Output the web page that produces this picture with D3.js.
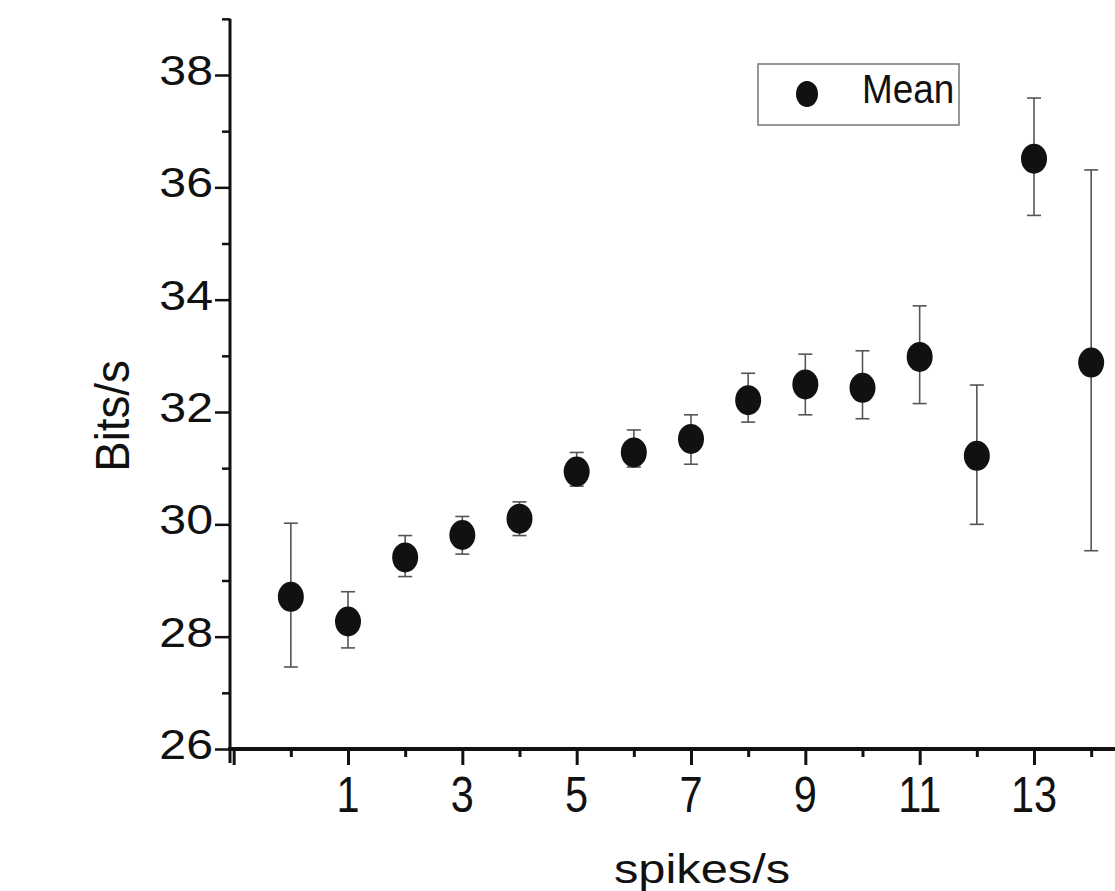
<!DOCTYPE html>
<html>
<head>
<meta charset="utf-8">
<script src="https://cdn.jsdelivr.net/npm/d3@7"></script>
<style>
  body { margin: 0; background: #fff; }
  svg text { font-family: 'Liberation Sans', Arial, sans-serif; fill: #111; }
</style>
</head>
<body>
<div id="chart"></div>
<script>
// data
const rates = [0, 1, 2, 3, 4, 5, 6, 7, 8, 9, 10, 11, 12, 13, 14]
const means = [28.71, 28.27, 29.41, 29.81, 30.10, 30.94, 31.28, 31.52, 32.21, 32.49, 32.43, 32.98, 31.22, 36.51, 32.88]
const upper = [30.02, 28.80, 29.80, 30.14, 30.40, 31.28, 31.68, 31.95, 32.69, 33.03, 33.09, 33.89, 32.48, 37.59, 36.31]
const lower = [27.46, 27.80, 29.07, 29.47, 29.80, 30.68, 31.02, 31.07, 31.82, 31.95, 31.88, 32.15, 30.00, 35.50, 29.53]
const xTickLabels = [1, 3, 5, 7, 9, 11, 13]
const yTickLabels = [26, 28, 30, 32, 34, 36, 38]
const legendLabel = 'Mean'

const width = 1115
const height = 891

const svg = d3.select('#chart')
  .append('svg')
  .attr('width', width)
  .attr('height', height)

const x = d3.scaleLinear().domain([1, 13]).range([348, 1034])
const y = d3.scaleLinear().domain([26, 38]).range([749, 75])

const x0 = x.invert(230)
const x1 = x.invert(width)
const ink = '#111'

// x axis: every integer ticked, odd ones long
const xTicks = d3.range(-1, 15)
const xAxis = d3.axisBottom(x)
  .tickValues(xTicks)
  .tickSize(0)
  .tickFormat('')
const gx = svg.append('g').attr('transform', `translate(0,${y(26)})`).call(xAxis)
gx.select('.domain').remove()
gx.append('line')
  .attr('x1', x(x0) - 2).attr('x2', x(x1))
  .attr('stroke', ink).attr('stroke-width', 4)
gx.selectAll('.tick line')
  .attr('stroke', ink).attr('stroke-width', 3)
  .attr('y2', d => (Math.abs(d) % 2 === 1) ? 16 : 8)
gx.selectAll('.xlab')
  .data(xTickLabels)
  .enter().append('text')
    .attr('class', 'xlab')
    .attr('transform', d => `translate(${x(d)},63) scale(0.83,1)`)
    .attr('text-anchor', 'middle')
    .attr('font-size', 50)
    .text(d => d)

// y axis
const yTicks = d3.range(26, 40)
const yAxis = d3.axisLeft(y)
  .tickValues(yTicks)
  .tickSize(0)
  .tickFormat('')
const gy = svg.append('g').attr('transform', `translate(${x(x0)},0)`).call(yAxis)
gy.select('.domain').remove()
gy.append('line')
  .attr('y1', y(39)).attr('y2', y(26) + 14)
  .attr('stroke', ink).attr('stroke-width', 3)
gy.selectAll('.tick line')
  .attr('stroke', ink).attr('stroke-width', 2.5)
  .attr('x2', d => d % 2 === 0 ? -15 : -8)
gy.selectAll('.ylab')
  .data(yTickLabels)
  .enter().append('text')
    .attr('class', 'ylab')
    .attr('transform', d => `translate(-17,${y(d) + 10}) scale(1.15,1)`)
    .attr('text-anchor', 'end')
    .attr('font-size', 42)
    .text(d => d)

// axis titles
svg.append('text')
  .attr('transform', 'translate(702,883) scale(1.19,1)')
  .attr('text-anchor', 'middle')
  .attr('font-size', 41)
  .text('spikes/s')

svg.append('text')
  .attr('transform', 'translate(129,416) rotate(-90) scale(0.95,1)')
  .attr('text-anchor', 'middle')
  .attr('font-size', 48)
  .text('Bits/s')

// error bars
const bars = svg.append('g').attr('id', 'errors')
  .selectAll('g')
  .data(rates)
  .enter().append('g')
bars.append('line')
  .attr('x1', d => x(d)).attr('x2', d => x(d))
  .attr('y1', (d, i) => y(upper[i])).attr('y2', (d, i) => y(lower[i]))
  .attr('stroke', '#555').attr('stroke-width', 1.6)
bars.append('line')
  .attr('x1', d => x(d) - 7).attr('x2', d => x(d) + 7)
  .attr('y1', (d, i) => y(upper[i])).attr('y2', (d, i) => y(upper[i]))
  .attr('stroke', '#555').attr('stroke-width', 1.6)
bars.append('line')
  .attr('x1', d => x(d) - 7).attr('x2', d => x(d) + 7)
  .attr('y1', (d, i) => y(lower[i])).attr('y2', (d, i) => y(lower[i]))
  .attr('stroke', '#555').attr('stroke-width', 1.6)

// means
svg.append('g').attr('id', 'points')
  .selectAll('ellipse')
  .data(rates)
  .enter().append('ellipse')
    .attr('cx', d => x(d))
    .attr('cy', (d, i) => y(means[i]))
    .attr('rx', 13)
    .attr('ry', 15)
    .attr('fill', ink)

// legend
const legend = svg.append('g').attr('transform', 'translate(758,64)')
legend.append('rect')
  .attr('width', 201).attr('height', 61)
  .attr('fill', 'none').attr('stroke', '#777').attr('stroke-width', 1.5)
legend.append('ellipse')
  .attr('cx', 49).attr('cy', 30)
  .attr('rx', 11).attr('ry', 13)
  .attr('fill', ink)
legend.append('text')
  .attr('transform', 'translate(104,39) scale(0.9,1)')
  .attr('font-size', 41)
  .text(legendLabel)
</script>
</body>
</html>
